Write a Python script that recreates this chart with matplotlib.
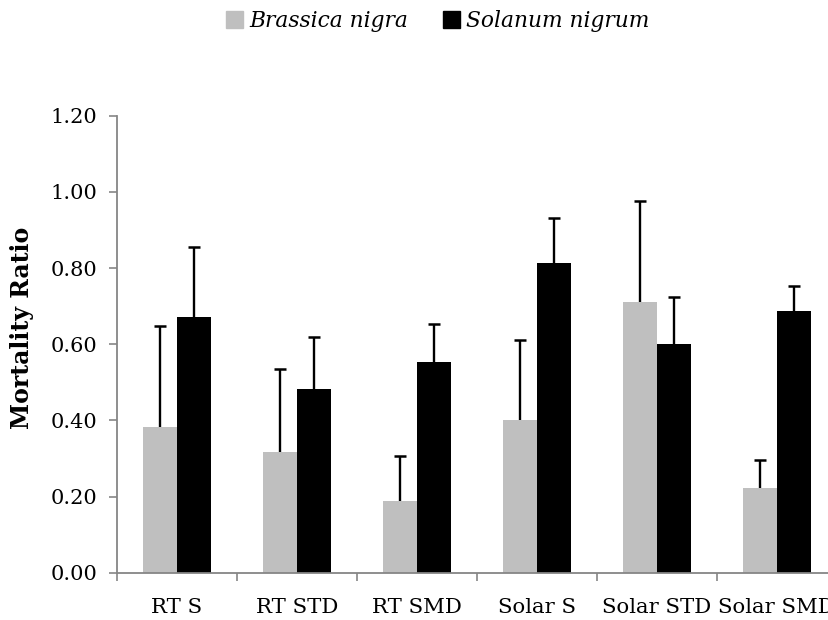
import matplotlib
matplotlib.use("Agg")
import matplotlib.pyplot as plt
import numpy as np
from matplotlib.patches import Patch

categories = ["RT S", "RT STD", "RT SMD", "Solar S", "Solar STD", "Solar SMD"]
brassica = [0.383, 0.316, 0.188, 0.402, 0.711, 0.222]
brassica_err = [0.265, 0.220, 0.119, 0.209, 0.265, 0.074]
solanum = [0.672, 0.483, 0.554, 0.812, 0.601, 0.686]
solanum_err = [0.183, 0.137, 0.099, 0.119, 0.123, 0.066]
yticks = [0.0, 0.2, 0.4, 0.6, 0.8, 1.0, 1.2]

plt.rcParams["font.family"] = ["DejaVu Serif"]
GRAY = "#bfbfbf"
AXIS = "#868686"

fig = plt.figure(figsize=(8.29, 6.2), dpi=100)
# right edge runs past the figure, as in the reference (last label is clipped)
ax = fig.add_axes([0.1408, 0.0763, 0.8685, 0.7371])

x = np.arange(len(categories))
w = 0.283
zeros = [0] * len(categories)
ekw = dict(ecolor="black", elinewidth=1.7, capsize=4.5, capthick=1.8)
for xs, vals, errs, col in [(x - w / 2, brassica, brassica_err, GRAY),
                            (x + w / 2, solanum, solanum_err, "black")]:
    bc = ax.bar(xs, vals, w, color=col, edgecolor="none",
                yerr=[zeros, errs], error_kw=ekw)
    # upper-only error bars: hide the cap sitting on the bar top
    caps = bc.errorbar.lines[1]
    caps[0].set_visible(False)

ax.set_xlim(-0.5, len(categories) - 0.5)
ax.set_ylim(0, 1.2)
ax.set_yticks(yticks)
ax.set_yticklabels([f"{v:.2f}" for v in yticks])
ax.set_xticks(x)
ax.set_xticklabels(categories)
ax.set_xticks(np.arange(len(categories) + 1) - 0.5, minor=True)
ax.tick_params(axis="x", which="major", length=0, pad=18, labelsize=15.3)
ax.tick_params(axis="x", which="minor", length=6, width=1.2, color=AXIS)
ax.tick_params(axis="y", length=6, width=1.2, color=AXIS, labelsize=15, pad=8)

for s in ("top", "right"):
    ax.spines[s].set_visible(False)
for s in ("left", "bottom"):
    ax.spines[s].set_color(AXIS)
    ax.spines[s].set_linewidth(1.3)

fig.text(22 / 829, 1 - 328 / 620, "Mortality Ratio", rotation=90, fontsize=17,
         fontweight="bold", ha="center", va="center")

handles = [Patch(color=GRAY, label="Brassica nigra"),
           Patch(color="black", label="Solanum nigrum")]
fig.legend(handles=handles, loc="center", bbox_to_anchor=(437.5 / 829, 1 - 21 / 620),
           ncol=2, frameon=False, prop=dict(style="italic", size=15.7),
           handlelength=0.8, handleheight=0.8, handletextpad=0.25, columnspacing=1.6)

fig.savefig("out.png", dpi=100)
